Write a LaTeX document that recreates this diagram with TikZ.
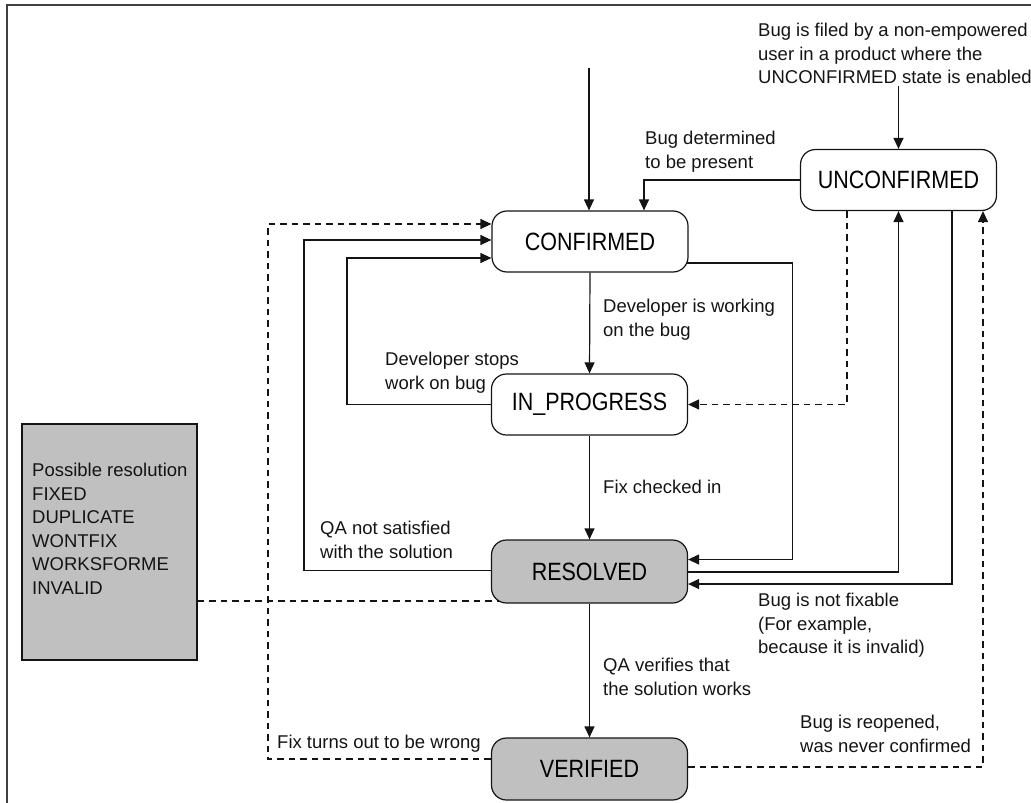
\documentclass[tikz,border=0pt]{standalone}
\usepackage{fontspec}
\setmainfont{Liberation Sans}
\newfontfamily\statefont[FakeStretch=0.86]{Liberation Sans}
\usetikzlibrary{arrows.meta,calc}
\definecolor{boxgray}{HTML}{C0C0C0}
\definecolor{linecol}{HTML}{141414}
\definecolor{framecol}{HTML}{404040}
\begin{document}
\begin{tikzpicture}[x=1pt,y=-1pt,
  state/.style={draw=linecol, line width=1.2pt, rounded corners=15pt, minimum width=196pt, minimum height=61pt, inner sep=0pt, font={\statefont\fontsize{25}{28}\selectfont}},
  filledstate/.style={state, fill=boxgray},
  lbl/.style={anchor=north west, align=left, inner sep=0pt, text=linecol, font={\fontsize{18.5}{23.5}\selectfont}},
  arr/.style={draw=linecol, line width=1.2pt, -{Triangle[length=11pt,width=10pt]}},
  dsh/.style={draw=linecol, line width=1.2pt, dash pattern=on 6.5pt off 5pt},
  darr/.style={dsh, -{Triangle[length=11pt,width=10pt]}}]
\useasboundingbox (0,0) rectangle (1031,803);
% frame
\draw[framecol, line width=2pt] (7,803) -- (7,5) -- (1031,5);

% states
\node[state] (conf) at (590,241.5) {CONFIRMED};
\node[state] (unc) at (898.5,180) {UNCONFIRMED};
\node[state] (inp) at (589.5,404.5) {IN\_PROGRESS};
\node[filledstate, minimum height=63pt] (res) at (589.5,571.5) {RESOLVED};
\node[filledstate, minimum height=62pt] (ver) at (589.5,769) {VERIFIED};

% resolution box
\node[draw=linecol, line width=1.2pt, fill=boxgray, minimum width=175pt, minimum height=236pt, inner sep=0pt] (resbox) at (109.5,542) {};
\node[lbl] (restext) at (32,463) {Possible resolution\\FIXED\\DUPLICATE\\WONTFIX\\WORKSFORME\\INVALID};

% labels
\node[lbl] (lfiled) at (758,23) {Bug is filed by a non-empowered\\user in a product where the\\UNCONFIRMED state is enabled};
\node[lbl] (ldet) at (645,131) {Bug determined\\to be present};
\node[lbl] (lwork) at (603,299) {Developer is working\\on the bug};
\node[lbl] (lstop) at (385,352) {Developer stops\\work on bug};
\node[lbl] (lfix) at (603,480) {Fix checked in};
\node[lbl] (lqan) at (320,521) {QA not satisfied\\with the solution};
\node[lbl] (lnotfix) at (758,593) {Bug is not fixable\\(For example,\\because it is invalid)};
\node[lbl] (lqav) at (603,658) {QA verifies that\\the solution works};
\node[lbl] (lreop) at (800,715) {Bug is reopened,\\was never confirmed};
\node[lbl] (lwrong) at (277,735) {Fix turns out to be wrong};

% entry points
\coordinate (cstart) at (589,68);
\coordinate (ustart) at (898.5,86);
\draw[arr] (cstart) -- (cstart |- conf.north);
\draw[arr] (ustart) -- (unc.north);

% unconfirmed -> confirmed
\draw[arr] (unc.west) -| ($(conf.north)+(54,0)$);
% confirmed -> in progress
\draw[arr] (conf.south) -- (inp.north);
% in progress -> confirmed (developer stops)
\draw[arr] (inp.west) -- ++(-144,0) |- ($(conf.west)+(0,16.5)$);
% confirmed -> resolved (right loop)
\draw[arr] ($(conf.east)+(-2,21.5)$) -- ++(106,0) |- ($(res.east)+(0,-12)$);
% in progress -> resolved
\draw[arr] (inp.south) -- (res.north);
% resolved -> confirmed (QA not satisfied)
\draw[arr] ($(res.west)+(0,-1)$) -- ++(-187,0) |- ($(conf.west)+(0,-1.5)$);
% resolved -> unconfirmed
\draw[arr] ($(res.east)+(0,0.5)$) -| (unc.south);
% unconfirmed -> resolved (not fixable)
\draw[arr] ($(unc.south)+(53.5,0)$) |- ($(res.east)+(0,12.5)$);
% unconfirmed -> in progress (dashed)
\draw[darr] ($(unc.south)+(-51.5,0)$) |- (inp.east);
% resolved -> verified
\draw[arr] (res.south) -- (ver.north);
% verified -> unconfirmed (dashed)
\draw[darr] ($(ver.east)+(0,-2)$) -| ($(unc.south)+(84.5,0)$);
% verified -> confirmed (dashed)
\draw[darr] ($(ver.west)+(0,-10)$) -- ++(-223,0) |- ($(conf.west)+(0,-17.5)$);
% resolution box -- resolved (dashed)
\coordinate (resbl) at (499,601);
\draw[dsh] (resbl -| resbox.east) -- (resbl);
\end{tikzpicture}
\end{document}
